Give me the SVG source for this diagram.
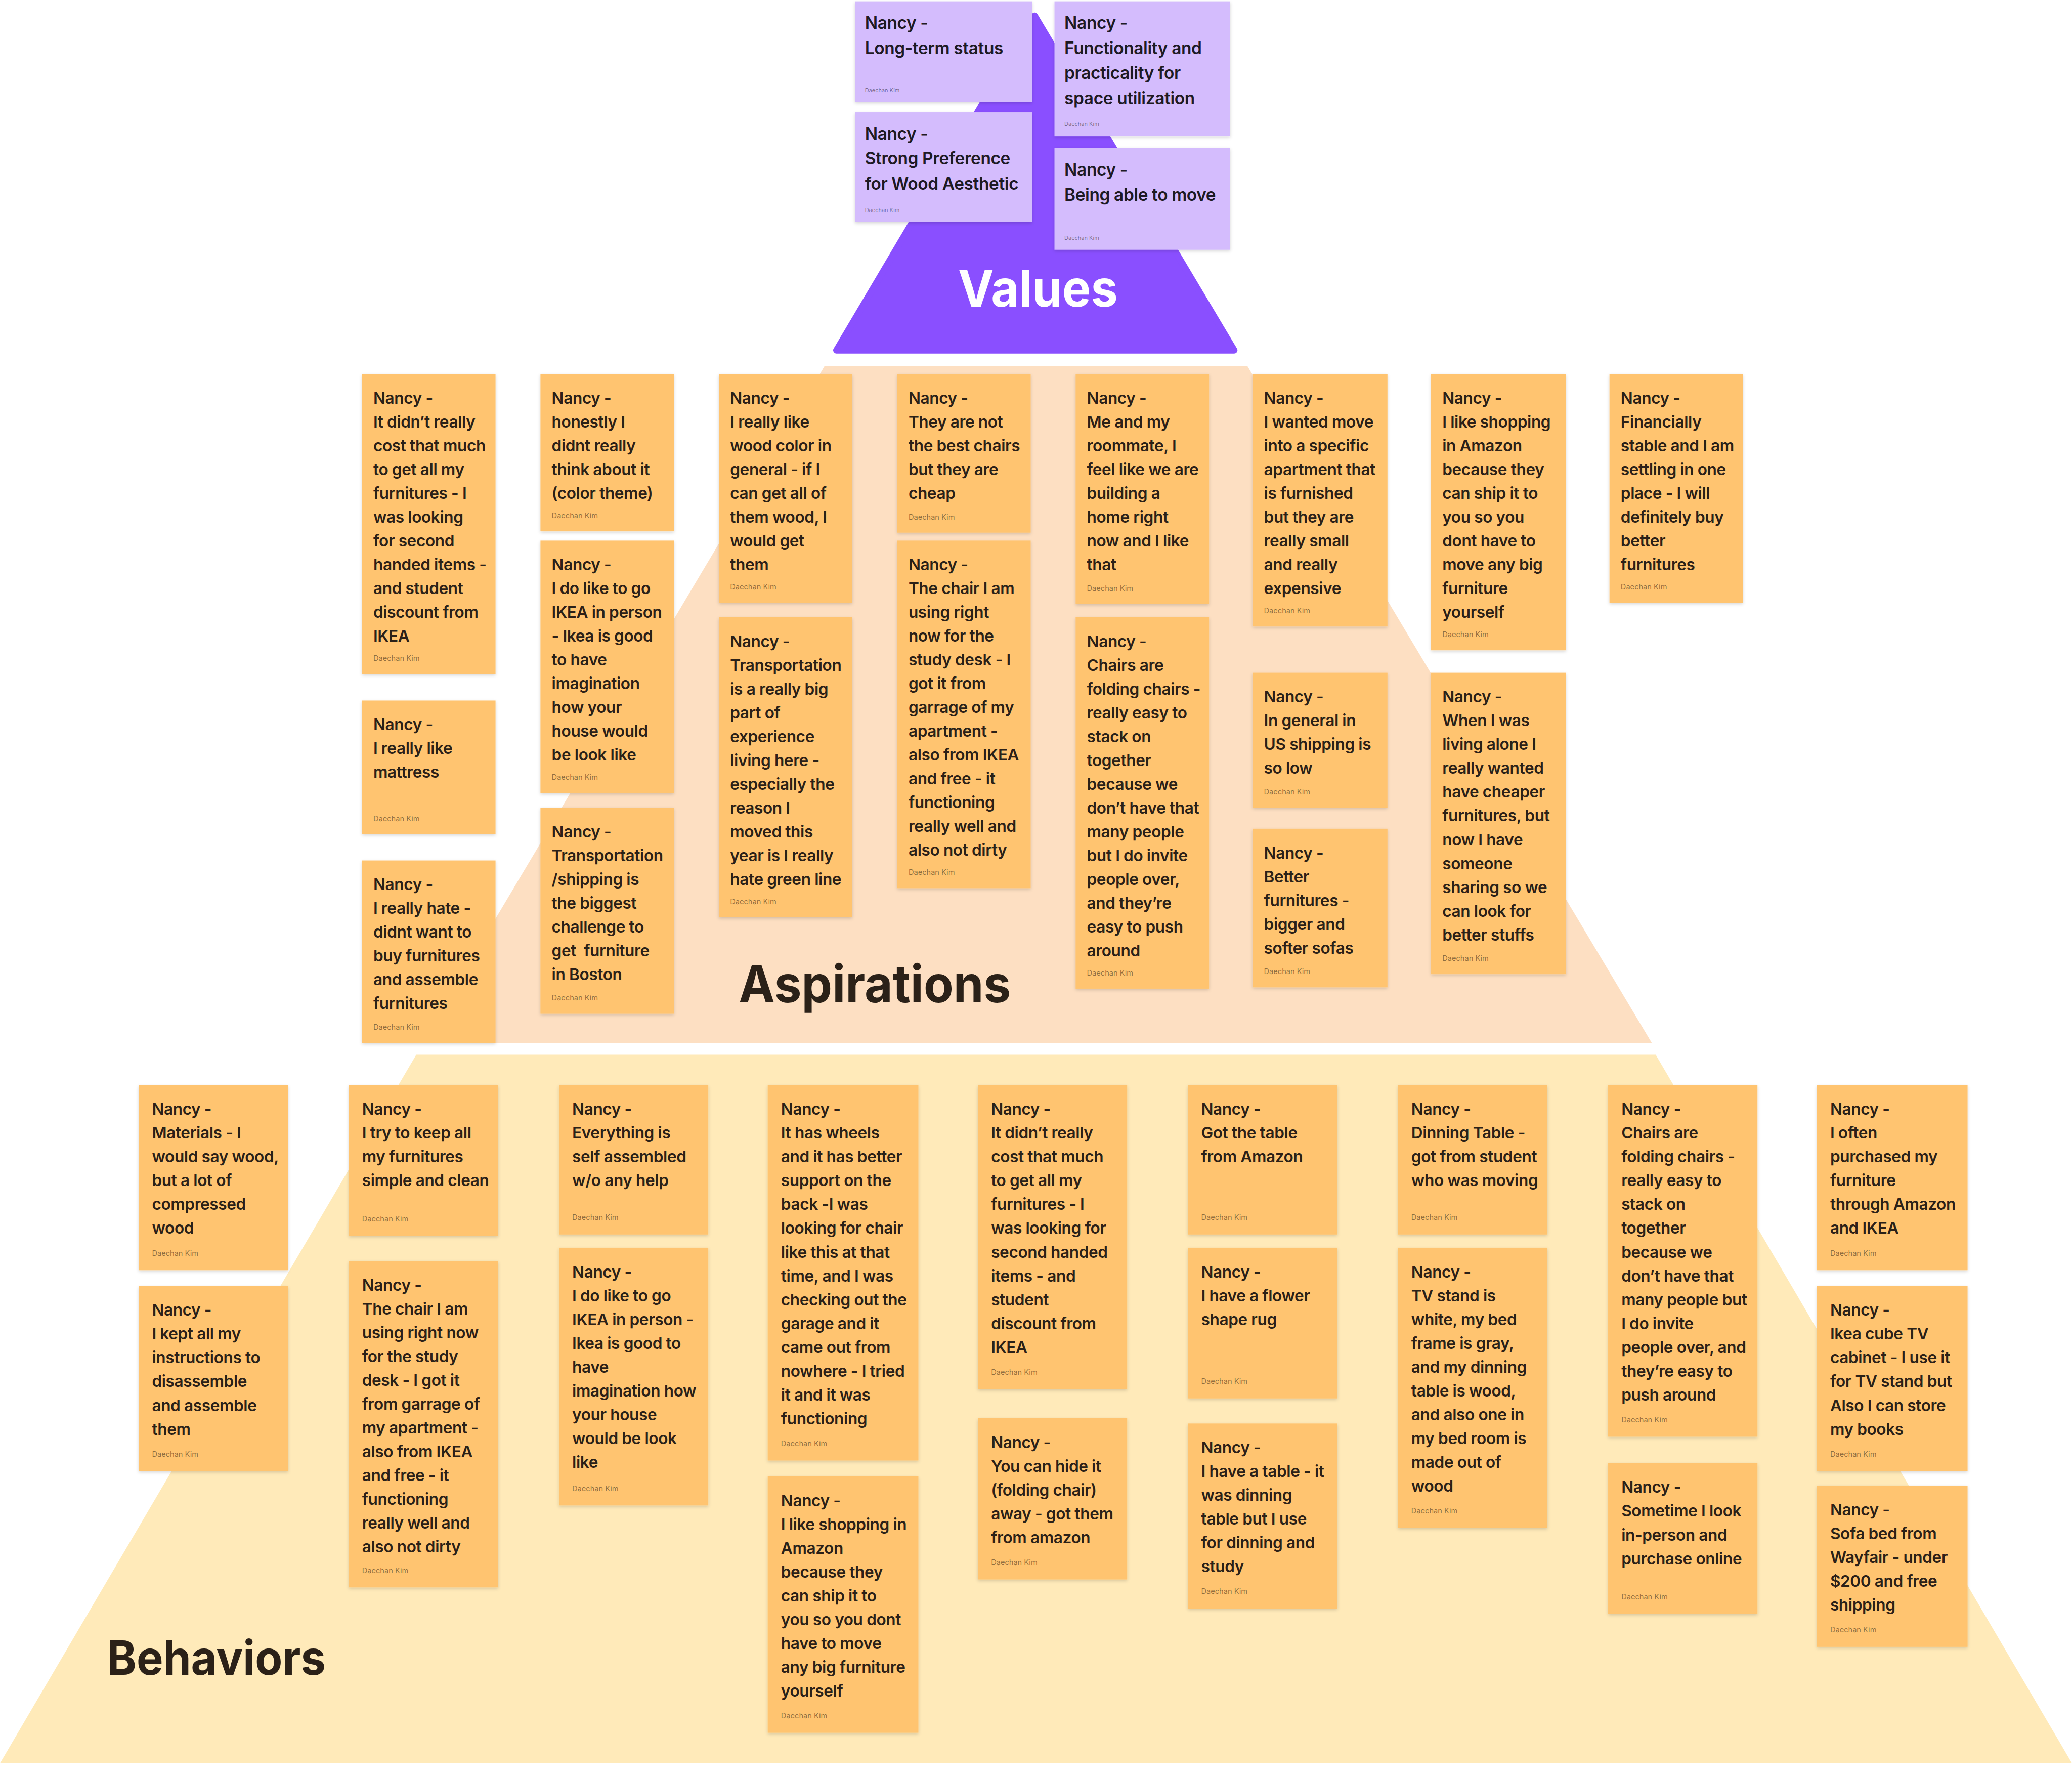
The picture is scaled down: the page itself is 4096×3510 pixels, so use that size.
<svg xmlns="http://www.w3.org/2000/svg" width="4096" height="3510" viewBox="0 0 4096 3510">
<defs>
<filter id="sh" x="-10%" y="-10%" width="120%" height="125%">
<feDropShadow dx="0" dy="1" stdDeviation="1.2" flood-color="#000" flood-opacity="0.16"/>
</filter>
<style>
.st{fill:#FFC470;filter:url(#sh)}
.sv{fill:#D4BCFD;filter:url(#sh)}
.t{font-family:Inter,'Noto Sans','Liberation Sans',sans-serif;font-weight:600;font-size:12.1px;letter-spacing:-0.15px;fill:#2B2118}
.tv{font-family:Inter,'Noto Sans','Liberation Sans',sans-serif;font-weight:600;font-size:12.8px;letter-spacing:-0.15px;fill:#1E1A24}
.dk{font-family:Inter,'Noto Sans','Liberation Sans',sans-serif;font-weight:400;font-size:5.6px;fill:#000;fill-opacity:0.45}
.dkv{font-family:Inter,'Noto Sans','Liberation Sans',sans-serif;font-weight:400;font-size:4.2px;fill:#000;fill-opacity:0.45}
.big{font-family:Inter,'Noto Sans','Liberation Sans',sans-serif;font-weight:700}
</style>
</defs>
<rect width="4096" height="3510" fill="#FFFFFF"/>
<g transform="scale(2.6122)">
<g id="layers">
<polygon id="behaviors-band" points="315,798 1253,798 1568,1334 0,1334" fill="#FFEAB9"/>
<polygon id="aspirations-band" points="624,277 944,277 1250,789 319,789" fill="#FDDFC2"/>
<polygon id="values-band" points="783,12 633,265 934,265" fill="#8A4FFF" stroke="#8A4FFF" stroke-width="5" stroke-linejoin="round"/>
<text class="big" x="785.5" y="232" font-size="38.5" fill="#FFFFFF" text-anchor="middle" textLength="121" lengthAdjust="spacingAndGlyphs">Values</text>
<text class="big" x="559" y="758.5" font-size="39" fill="#2B2118" textLength="206" lengthAdjust="spacingAndGlyphs">Aspirations</text>
<text class="big" x="81" y="1267" font-size="36" fill="#2B2118" textLength="165.5" lengthAdjust="spacingAndGlyphs">Behaviors</text>
</g>

<!-- Values notes -->
<g id="v1" transform="translate(647,1)"><rect class="sv" width="134" height="76"/>
<text class="tv" y="20.7"><tspan x="7.5">Nancy -</tspan><tspan x="7.5" dy="19.1">Long-term status</tspan></text>
<text class="dkv" x="7.5" y="68.5">Daechan Kim</text></g>
<g id="v2" transform="translate(647,85)"><rect class="sv" width="134" height="83"/>
<text class="tv" y="20.5"><tspan x="7.5">Nancy -</tspan><tspan x="7.5" dy="19.1">Strong Preference</tspan><tspan x="7.5" dy="19.1">for Wood Aesthetic</tspan></text>
<text class="dkv" x="7.5" y="75.5">Daechan Kim</text></g>
<g id="v3" transform="translate(798,1)"><rect class="sv" width="133" height="102"/>
<text class="tv" y="20.7"><tspan x="7.5">Nancy -</tspan><tspan x="7.5" dy="19.1">Functionality and</tspan><tspan x="7.5" dy="19.1">practicality for</tspan><tspan x="7.5" dy="19.1">space utilization</tspan></text>
<text class="dkv" x="7.5" y="94.5">Daechan Kim</text></g>
<g id="v4" transform="translate(798,112)"><rect class="sv" width="133" height="77"/>
<text class="tv" y="21"><tspan x="7.5">Nancy -</tspan><tspan x="7.5" dy="19.1">Being able to move</tspan></text>
<text class="dkv" x="7.5" y="69.5">Daechan Kim</text></g>

<!-- Aspirations notes -->
<g id="a-1" transform="translate(274,283)"><rect class="st" width="101" height="227"/>
<text class="t" y="22.5"><tspan x="8.5">Nancy -</tspan><tspan x="8.5" dy="18">It didn’t really</tspan><tspan x="8.5" dy="18">cost that much</tspan><tspan x="8.5" dy="18">to get all my</tspan><tspan x="8.5" dy="18">furnitures - I</tspan><tspan x="8.5" dy="18">was looking</tspan><tspan x="8.5" dy="18">for second</tspan><tspan x="8.5" dy="18">handed items -</tspan><tspan x="8.5" dy="18">and student</tspan><tspan x="8.5" dy="18">discount from</tspan><tspan x="8.5" dy="18">IKEA</tspan></text>
<text class="dk" x="8.5" y="217">Daechan Kim</text></g>
<g id="a-2" transform="translate(274,530)"><rect class="st" width="101" height="101"/>
<text class="t" y="22.5"><tspan x="8.5">Nancy -</tspan><tspan x="8.5" dy="18">I really like</tspan><tspan x="8.5" dy="18">mattress</tspan></text>
<text class="dk" x="8.5" y="91.5">Daechan Kim</text></g>
<g id="a-3" transform="translate(274,651)"><rect class="st" width="101" height="138"/>
<text class="t" y="22.5"><tspan x="8.5">Nancy -</tspan><tspan x="8.5" dy="18">I really hate -</tspan><tspan x="8.5" dy="18">didnt want to</tspan><tspan x="8.5" dy="18">buy furnitures</tspan><tspan x="8.5" dy="18">and assemble</tspan><tspan x="8.5" dy="18">furnitures</tspan></text>
<text class="dk" x="8.5" y="128">Daechan Kim</text></g>
<g id="a-4" transform="translate(409,283)"><rect class="st" width="101" height="119"/>
<text class="t" y="22.5"><tspan x="8.5">Nancy -</tspan><tspan x="8.5" dy="18">honestly I</tspan><tspan x="8.5" dy="18">didnt really</tspan><tspan x="8.5" dy="18">think about it</tspan><tspan x="8.5" dy="18">(color theme)</tspan></text>
<text class="dk" x="8.5" y="109">Daechan Kim</text></g>
<g id="a-5" transform="translate(409,409)"><rect class="st" width="101" height="191"/>
<text class="t" y="22.5"><tspan x="8.5">Nancy -</tspan><tspan x="8.5" dy="18">I do like to go</tspan><tspan x="8.5" dy="18">IKEA in person</tspan><tspan x="8.5" dy="18">- Ikea is good</tspan><tspan x="8.5" dy="18">to have</tspan><tspan x="8.5" dy="18">imagination</tspan><tspan x="8.5" dy="18">how your</tspan><tspan x="8.5" dy="18">house would</tspan><tspan x="8.5" dy="18">be look like</tspan></text>
<text class="dk" x="8.5" y="181">Daechan Kim</text></g>
<g id="a-6" transform="translate(409,611)"><rect class="st" width="101" height="156"/>
<text class="t" y="22.5"><tspan x="8.5">Nancy -</tspan><tspan x="8.5" dy="18">Transportation</tspan><tspan x="8.5" dy="18">/shipping is</tspan><tspan x="8.5" dy="18">the biggest</tspan><tspan x="8.5" dy="18">challenge to</tspan><tspan x="8.5" dy="18">get&#160; furniture</tspan><tspan x="8.5" dy="18">in Boston</tspan></text>
<text class="dk" x="8.5" y="146">Daechan Kim</text></g>
<g id="a-7" transform="translate(544,283)"><rect class="st" width="101" height="173"/>
<text class="t" y="22.5"><tspan x="8.5">Nancy -</tspan><tspan x="8.5" dy="18">I really like</tspan><tspan x="8.5" dy="18">wood color in</tspan><tspan x="8.5" dy="18">general - if I</tspan><tspan x="8.5" dy="18">can get all of</tspan><tspan x="8.5" dy="18">them wood, I</tspan><tspan x="8.5" dy="18">would get</tspan><tspan x="8.5" dy="18">them</tspan></text>
<text class="dk" x="8.5" y="163">Daechan Kim</text></g>
<g id="a-8" transform="translate(544,467)"><rect class="st" width="101" height="227"/>
<text class="t" y="22.5"><tspan x="8.5">Nancy -</tspan><tspan x="8.5" dy="18">Transportation</tspan><tspan x="8.5" dy="18">is a really big</tspan><tspan x="8.5" dy="18">part of</tspan><tspan x="8.5" dy="18">experience</tspan><tspan x="8.5" dy="18">living here -</tspan><tspan x="8.5" dy="18">especially the</tspan><tspan x="8.5" dy="18">reason I</tspan><tspan x="8.5" dy="18">moved this</tspan><tspan x="8.5" dy="18">year is I really</tspan><tspan x="8.5" dy="18">hate green line</tspan></text>
<text class="dk" x="8.5" y="217">Daechan Kim</text></g>
<g id="a-9" transform="translate(679,283)"><rect class="st" width="101" height="120"/>
<text class="t" y="22.5"><tspan x="8.5">Nancy -</tspan><tspan x="8.5" dy="18">They are not</tspan><tspan x="8.5" dy="18">the best chairs</tspan><tspan x="8.5" dy="18">but they are</tspan><tspan x="8.5" dy="18">cheap</tspan></text>
<text class="dk" x="8.5" y="110">Daechan Kim</text></g>
<g id="a-10" transform="translate(679,409)"><rect class="st" width="101" height="263"/>
<text class="t" y="22.5"><tspan x="8.5">Nancy -</tspan><tspan x="8.5" dy="18">The chair I am</tspan><tspan x="8.5" dy="18">using right</tspan><tspan x="8.5" dy="18">now for the</tspan><tspan x="8.5" dy="18">study desk - I</tspan><tspan x="8.5" dy="18">got it from</tspan><tspan x="8.5" dy="18">garrage of my</tspan><tspan x="8.5" dy="18">apartment -</tspan><tspan x="8.5" dy="18">also from IKEA</tspan><tspan x="8.5" dy="18">and free - it</tspan><tspan x="8.5" dy="18">functioning</tspan><tspan x="8.5" dy="18">really well and</tspan><tspan x="8.5" dy="18">also not dirty</tspan></text>
<text class="dk" x="8.5" y="253">Daechan Kim</text></g>
<g id="a-11" transform="translate(814,283)"><rect class="st" width="101" height="174"/>
<text class="t" y="22.5"><tspan x="8.5">Nancy -</tspan><tspan x="8.5" dy="18">Me and my</tspan><tspan x="8.5" dy="18">roommate, I</tspan><tspan x="8.5" dy="18">feel like we are</tspan><tspan x="8.5" dy="18">building a</tspan><tspan x="8.5" dy="18">home right</tspan><tspan x="8.5" dy="18">now and I like</tspan><tspan x="8.5" dy="18">that</tspan></text>
<text class="dk" x="8.5" y="164">Daechan Kim</text></g>
<g id="a-12" transform="translate(814,467)"><rect class="st" width="101" height="281"/>
<text class="t" y="22.5"><tspan x="8.5">Nancy -</tspan><tspan x="8.5" dy="18">Chairs are</tspan><tspan x="8.5" dy="18">folding chairs -</tspan><tspan x="8.5" dy="18">really easy to</tspan><tspan x="8.5" dy="18">stack on</tspan><tspan x="8.5" dy="18">together</tspan><tspan x="8.5" dy="18">because we</tspan><tspan x="8.5" dy="18">don’t have that</tspan><tspan x="8.5" dy="18">many people</tspan><tspan x="8.5" dy="18">but I do invite</tspan><tspan x="8.5" dy="18">people over,</tspan><tspan x="8.5" dy="18">and they’re</tspan><tspan x="8.5" dy="18">easy to push</tspan><tspan x="8.5" dy="18">around</tspan></text>
<text class="dk" x="8.5" y="271">Daechan Kim</text></g>
<g id="a-13" transform="translate(948,283)"><rect class="st" width="102" height="191"/>
<text class="t" y="22.5"><tspan x="8.5">Nancy -</tspan><tspan x="8.5" dy="18">I wanted move</tspan><tspan x="8.5" dy="18">into a specific</tspan><tspan x="8.5" dy="18">apartment that</tspan><tspan x="8.5" dy="18">is furnished</tspan><tspan x="8.5" dy="18">but they are</tspan><tspan x="8.5" dy="18">really small</tspan><tspan x="8.5" dy="18">and really</tspan><tspan x="8.5" dy="18">expensive</tspan></text>
<text class="dk" x="8.5" y="181">Daechan Kim</text></g>
<g id="a-14" transform="translate(948,509)"><rect class="st" width="102" height="102"/>
<text class="t" y="22.5"><tspan x="8.5">Nancy -</tspan><tspan x="8.5" dy="18">In general in</tspan><tspan x="8.5" dy="18">US shipping is</tspan><tspan x="8.5" dy="18">so low</tspan></text>
<text class="dk" x="8.5" y="92">Daechan Kim</text></g>
<g id="a-15" transform="translate(948,627)"><rect class="st" width="102" height="120"/>
<text class="t" y="22.5"><tspan x="8.5">Nancy -</tspan><tspan x="8.5" dy="18">Better</tspan><tspan x="8.5" dy="18">furnitures -</tspan><tspan x="8.5" dy="18">bigger and</tspan><tspan x="8.5" dy="18">softer sofas</tspan></text>
<text class="dk" x="8.5" y="110">Daechan Kim</text></g>
<g id="a-16" transform="translate(1083,283)"><rect class="st" width="102" height="209"/>
<text class="t" y="22.5"><tspan x="8.5">Nancy -</tspan><tspan x="8.5" dy="18">I like shopping</tspan><tspan x="8.5" dy="18">in Amazon</tspan><tspan x="8.5" dy="18">because they</tspan><tspan x="8.5" dy="18">can ship it to</tspan><tspan x="8.5" dy="18">you so you</tspan><tspan x="8.5" dy="18">dont have to</tspan><tspan x="8.5" dy="18">move any big</tspan><tspan x="8.5" dy="18">furniture</tspan><tspan x="8.5" dy="18">yourself</tspan></text>
<text class="dk" x="8.5" y="199">Daechan Kim</text></g>
<g id="a-17" transform="translate(1083,509)"><rect class="st" width="102" height="228"/>
<text class="t" y="22.5"><tspan x="8.5">Nancy -</tspan><tspan x="8.5" dy="18">When I was</tspan><tspan x="8.5" dy="18">living alone I</tspan><tspan x="8.5" dy="18">really wanted</tspan><tspan x="8.5" dy="18">have cheaper</tspan><tspan x="8.5" dy="18">furnitures, but</tspan><tspan x="8.5" dy="18">now I have</tspan><tspan x="8.5" dy="18">someone</tspan><tspan x="8.5" dy="18">sharing so we</tspan><tspan x="8.5" dy="18">can look for</tspan><tspan x="8.5" dy="18">better stuffs</tspan></text>
<text class="dk" x="8.5" y="218">Daechan Kim</text></g>
<g id="a-18" transform="translate(1218,283)"><rect class="st" width="101" height="173"/>
<text class="t" y="22.5"><tspan x="8.5">Nancy -</tspan><tspan x="8.5" dy="18">Financially</tspan><tspan x="8.5" dy="18">stable and I am</tspan><tspan x="8.5" dy="18">settling in one</tspan><tspan x="8.5" dy="18">place - I will</tspan><tspan x="8.5" dy="18">definitely buy</tspan><tspan x="8.5" dy="18">better</tspan><tspan x="8.5" dy="18">furnitures</tspan></text>
<text class="dk" x="8.5" y="163">Daechan Kim</text></g>

<!-- Behaviors notes -->
<g id="b-1" transform="translate(105,821)"><rect class="st" width="113" height="140"/>
<text class="t" y="22.5"><tspan x="10">Nancy -</tspan><tspan x="10" dy="18">Materials - I</tspan><tspan x="10" dy="18">would say wood,</tspan><tspan x="10" dy="18">but a lot of</tspan><tspan x="10" dy="18">compressed</tspan><tspan x="10" dy="18">wood</tspan></text>
<text class="dk" x="10" y="129">Daechan Kim</text></g>
<g id="b-2" transform="translate(105,973)"><rect class="st" width="113" height="140"/>
<text class="t" y="22.5"><tspan x="10">Nancy -</tspan><tspan x="10" dy="18">I kept all my</tspan><tspan x="10" dy="18">instructions to</tspan><tspan x="10" dy="18">disassemble</tspan><tspan x="10" dy="18">and assemble</tspan><tspan x="10" dy="18">them</tspan></text>
<text class="dk" x="10" y="129">Daechan Kim</text></g>
<g id="b-3" transform="translate(264,821)"><rect class="st" width="113" height="114"/>
<text class="t" y="22.5"><tspan x="10">Nancy -</tspan><tspan x="10" dy="18">I try to keep all</tspan><tspan x="10" dy="18">my furnitures</tspan><tspan x="10" dy="18">simple and clean</tspan></text>
<text class="dk" x="10" y="103">Daechan Kim</text></g>
<g id="b-4" transform="translate(264,954)"><rect class="st" width="113" height="247"/>
<text class="t" y="22.5"><tspan x="10">Nancy -</tspan><tspan x="10" dy="18">The chair I am</tspan><tspan x="10" dy="18">using right now</tspan><tspan x="10" dy="18">for the study</tspan><tspan x="10" dy="18">desk - I got it</tspan><tspan x="10" dy="18">from garrage of</tspan><tspan x="10" dy="18">my apartment -</tspan><tspan x="10" dy="18">also from IKEA</tspan><tspan x="10" dy="18">and free - it</tspan><tspan x="10" dy="18">functioning</tspan><tspan x="10" dy="18">really well and</tspan><tspan x="10" dy="18">also not dirty</tspan></text>
<text class="dk" x="10" y="236">Daechan Kim</text></g>
<g id="b-5" transform="translate(423,821)"><rect class="st" width="113" height="113"/>
<text class="t" y="22.5"><tspan x="10">Nancy -</tspan><tspan x="10" dy="18">Everything is</tspan><tspan x="10" dy="18">self assembled</tspan><tspan x="10" dy="18">w/o any help</tspan></text>
<text class="dk" x="10" y="102">Daechan Kim</text></g>
<g id="b-6" transform="translate(423,944)"><rect class="st" width="113" height="195"/>
<text class="t" y="22.5"><tspan x="10">Nancy -</tspan><tspan x="10" dy="18">I do like to go</tspan><tspan x="10" dy="18">IKEA in person -</tspan><tspan x="10" dy="18">Ikea is good to</tspan><tspan x="10" dy="18">have</tspan><tspan x="10" dy="18">imagination how</tspan><tspan x="10" dy="18">your house</tspan><tspan x="10" dy="18">would be look</tspan><tspan x="10" dy="18">like</tspan></text>
<text class="dk" x="10" y="184">Daechan Kim</text></g>
<g id="b-7" transform="translate(581,821)"><rect class="st" width="114" height="284"/>
<text class="t" y="22.5"><tspan x="10">Nancy -</tspan><tspan x="10" dy="18">It has wheels</tspan><tspan x="10" dy="18">and it has better</tspan><tspan x="10" dy="18">support on the</tspan><tspan x="10" dy="18">back -I was</tspan><tspan x="10" dy="18">looking for chair</tspan><tspan x="10" dy="18">like this at that</tspan><tspan x="10" dy="18">time, and I was</tspan><tspan x="10" dy="18">checking out the</tspan><tspan x="10" dy="18">garage and it</tspan><tspan x="10" dy="18">came out from</tspan><tspan x="10" dy="18">nowhere - I tried</tspan><tspan x="10" dy="18">it and it was</tspan><tspan x="10" dy="18">functioning</tspan></text>
<text class="dk" x="10" y="273">Daechan Kim</text></g>
<g id="b-8" transform="translate(581,1117)"><rect class="st" width="114" height="194"/>
<text class="t" y="22.5"><tspan x="10">Nancy -</tspan><tspan x="10" dy="18">I like shopping in</tspan><tspan x="10" dy="18">Amazon</tspan><tspan x="10" dy="18">because they</tspan><tspan x="10" dy="18">can ship it to</tspan><tspan x="10" dy="18">you so you dont</tspan><tspan x="10" dy="18">have to move</tspan><tspan x="10" dy="18">any big furniture</tspan><tspan x="10" dy="18">yourself</tspan></text>
<text class="dk" x="10" y="183">Daechan Kim</text></g>
<g id="b-9" transform="translate(740,821)"><rect class="st" width="113" height="230"/>
<text class="t" y="22.5"><tspan x="10">Nancy -</tspan><tspan x="10" dy="18">It didn’t really</tspan><tspan x="10" dy="18">cost that much</tspan><tspan x="10" dy="18">to get all my</tspan><tspan x="10" dy="18">furnitures - I</tspan><tspan x="10" dy="18">was looking for</tspan><tspan x="10" dy="18">second handed</tspan><tspan x="10" dy="18">items - and</tspan><tspan x="10" dy="18">student</tspan><tspan x="10" dy="18">discount from</tspan><tspan x="10" dy="18">IKEA</tspan></text>
<text class="dk" x="10" y="219">Daechan Kim</text></g>
<g id="b-10" transform="translate(740,1073)"><rect class="st" width="113" height="122"/>
<text class="t" y="22.5"><tspan x="10">Nancy -</tspan><tspan x="10" dy="18">You can hide it</tspan><tspan x="10" dy="18">(folding chair)</tspan><tspan x="10" dy="18">away - got them</tspan><tspan x="10" dy="18">from amazon</tspan></text>
<text class="dk" x="10" y="111">Daechan Kim</text></g>
<g id="b-11" transform="translate(899,821)"><rect class="st" width="113" height="113"/>
<text class="t" y="22.5"><tspan x="10">Nancy -</tspan><tspan x="10" dy="18">Got the table</tspan><tspan x="10" dy="18">from Amazon</tspan></text>
<text class="dk" x="10" y="102">Daechan Kim</text></g>
<g id="b-12" transform="translate(899,944)"><rect class="st" width="113" height="114"/>
<text class="t" y="22.5"><tspan x="10">Nancy -</tspan><tspan x="10" dy="18">I have a flower</tspan><tspan x="10" dy="18">shape rug</tspan></text>
<text class="dk" x="10" y="103">Daechan Kim</text></g>
<g id="b-13" transform="translate(899,1077)"><rect class="st" width="113" height="140"/>
<text class="t" y="22.5"><tspan x="10">Nancy -</tspan><tspan x="10" dy="18">I have a table - it</tspan><tspan x="10" dy="18">was dinning</tspan><tspan x="10" dy="18">table but I use</tspan><tspan x="10" dy="18">for dinning and</tspan><tspan x="10" dy="18">study</tspan></text>
<text class="dk" x="10" y="129">Daechan Kim</text></g>
<g id="b-14" transform="translate(1058,821)"><rect class="st" width="113" height="113"/>
<text class="t" y="22.5"><tspan x="10">Nancy -</tspan><tspan x="10" dy="18">Dinning Table -</tspan><tspan x="10" dy="18">got from student</tspan><tspan x="10" dy="18">who was moving</tspan></text>
<text class="dk" x="10" y="102">Daechan Kim</text></g>
<g id="b-15" transform="translate(1058,944)"><rect class="st" width="113" height="212"/>
<text class="t" y="22.5"><tspan x="10">Nancy -</tspan><tspan x="10" dy="18">TV stand is</tspan><tspan x="10" dy="18">white, my bed</tspan><tspan x="10" dy="18">frame is gray,</tspan><tspan x="10" dy="18">and my dinning</tspan><tspan x="10" dy="18">table is wood,</tspan><tspan x="10" dy="18">and also one in</tspan><tspan x="10" dy="18">my bed room is</tspan><tspan x="10" dy="18">made out of</tspan><tspan x="10" dy="18">wood</tspan></text>
<text class="dk" x="10" y="201">Daechan Kim</text></g>
<g id="b-16" transform="translate(1217,821)"><rect class="st" width="113" height="266"/>
<text class="t" y="22.5"><tspan x="10">Nancy -</tspan><tspan x="10" dy="18">Chairs are</tspan><tspan x="10" dy="18">folding chairs -</tspan><tspan x="10" dy="18">really easy to</tspan><tspan x="10" dy="18">stack on</tspan><tspan x="10" dy="18">together</tspan><tspan x="10" dy="18">because we</tspan><tspan x="10" dy="18">don’t have that</tspan><tspan x="10" dy="18">many people but</tspan><tspan x="10" dy="18">I do invite</tspan><tspan x="10" dy="18">people over, and</tspan><tspan x="10" dy="18">they’re easy to</tspan><tspan x="10" dy="18">push around</tspan></text>
<text class="dk" x="10" y="255">Daechan Kim</text></g>
<g id="b-17" transform="translate(1217,1107)"><rect class="st" width="113" height="114"/>
<text class="t" y="22.5"><tspan x="10">Nancy -</tspan><tspan x="10" dy="18">Sometime I look</tspan><tspan x="10" dy="18">in-person and</tspan><tspan x="10" dy="18">purchase online</tspan></text>
<text class="dk" x="10" y="103">Daechan Kim</text></g>
<g id="b-18" transform="translate(1375,821)"><rect class="st" width="114" height="140"/>
<text class="t" y="22.5"><tspan x="10">Nancy -</tspan><tspan x="10" dy="18">I often</tspan><tspan x="10" dy="18">purchased my</tspan><tspan x="10" dy="18">furniture</tspan><tspan x="10" dy="18">through Amazon</tspan><tspan x="10" dy="18">and IKEA</tspan></text>
<text class="dk" x="10" y="129">Daechan Kim</text></g>
<g id="b-19" transform="translate(1375,973)"><rect class="st" width="114" height="140"/>
<text class="t" y="22.5"><tspan x="10">Nancy -</tspan><tspan x="10" dy="18">Ikea cube TV</tspan><tspan x="10" dy="18">cabinet - I use it</tspan><tspan x="10" dy="18">for TV stand but</tspan><tspan x="10" dy="18">Also I can store</tspan><tspan x="10" dy="18">my books</tspan></text>
<text class="dk" x="10" y="129">Daechan Kim</text></g>
<g id="b-20" transform="translate(1375,1124)"><rect class="st" width="114" height="122"/>
<text class="t" y="22.5"><tspan x="10">Nancy -</tspan><tspan x="10" dy="18">Sofa bed from</tspan><tspan x="10" dy="18">Wayfair - under</tspan><tspan x="10" dy="18">$200 and free</tspan><tspan x="10" dy="18">shipping</tspan></text>
<text class="dk" x="10" y="111">Daechan Kim</text></g>
</g>
</svg>
